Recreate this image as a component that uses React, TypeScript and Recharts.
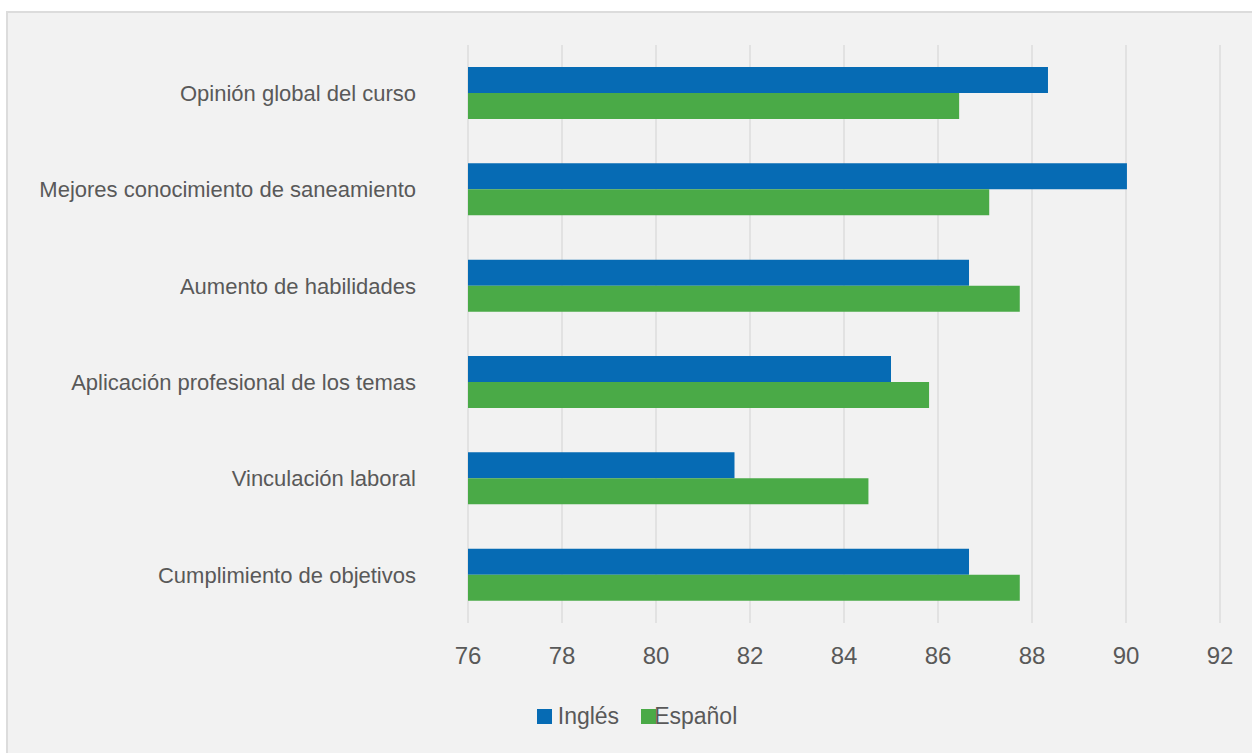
import React from 'react';
import { BarChart, Bar, XAxis, YAxis, CartesianGrid, Legend } from 'recharts';

const categories = [
  'Opinión global del curso',
  'Mejores conocimiento de saneamiento',
  'Aumento de habilidades',
  'Aplicación profesional de los temas',
  'Vinculación laboral',
  'Cumplimiento de objetivos',
];
const ingles = [88.34, 90.02, 86.66, 85.0, 81.67, 86.66];
const espanol = [86.45, 87.09, 87.74, 85.81, 84.52, 87.74];
const xTicks = [76, 78, 80, 82, 84, 86, 88, 90, 92];
const seriesOrder = ['ingles', 'espanol'];

const BLUE = '#066BB4';
const GREEN = '#4AAA47';
const TEXT = '#595959';
const FONT = '"Liberation Sans", Arial, sans-serif';

const data = categories.map((name, i) => ({ name, ingles: ingles[i], espanol: espanol[i] }));

// recharts flips the legend order in vertical layout, so put it back in series order
const renderLegend = (props: any) => {
  const items = [...(props.payload || [])].sort(
    (a: any, b: any) => seriesOrder.indexOf(a.dataKey) - seriesOrder.indexOf(b.dataKey)
  );
  return (
    <div style={{ display: 'flex', justifyContent: 'center', paddingTop: 21, marginLeft: 22 }}>
      {items.map((it: any, i: number) => (
        <div key={i} style={{ display: 'flex', alignItems: 'center', marginRight: i === 0 ? 22 : 0 }}>
          <span style={{ width: 15, height: 15, background: it.color, display: 'inline-block', marginRight: i === 0 ? 6 : -2 }} />
          <span style={{ fontSize: 23, color: TEXT, fontFamily: FONT, lineHeight: '24px' }}>{it.value}</span>
        </div>
      ))}
    </div>
  );
};

const App: React.FC = () => {
  return (
    <div style={{ position: 'absolute', left: 0, top: 0, width: 1252, height: 753, background: '#fff', overflow: 'hidden' }}>
      <div
        style={{
          position: 'absolute',
          left: 6,
          top: 11,
          width: 1260,
          height: 760,
          background: '#f2f2f2',
          border: '2px solid #dcdcdc',
        }}
      />
      <div style={{ position: 'absolute', left: 0, top: 0 }}>
        <BarChart
          width={1252}
          height={753}
          data={data}
          layout="vertical"
          margin={{ top: 45, right: 32, bottom: 0, left: 0 }}
          barGap={0}
        >
          <CartesianGrid horizontal={false} stroke="#dcdcdc" strokeWidth={1.5} />
          <XAxis
            type="number"
            domain={[76, 92]}
            ticks={xTicks}
            axisLine={false}
            tickLine={false}
            tickSize={0}
            tickMargin={24}
            height={60}
            interval={0}
            tick={{ fill: TEXT, fontSize: 24, fontFamily: FONT }}
          />
          <YAxis
            type="category"
            dataKey="name"
            width={468}
            axisLine={false}
            tickLine={false}
            tickSize={0}
            tickMargin={52}
            interval={0}
            tick={{ fill: TEXT, fontSize: 22, fontFamily: FONT }}
          />
          <Legend
            verticalAlign="bottom"
            height={70}
            content={renderLegend}
            wrapperStyle={{ left: 0, width: 1252 }}
          />
          <Bar dataKey="ingles" name="Inglés" fill={BLUE} barSize={26} isAnimationActive={false} />
          <Bar dataKey="espanol" name="Español" fill={GREEN} barSize={26} isAnimationActive={false} />
        </BarChart>
      </div>
    </div>
  );
};

export default App;
